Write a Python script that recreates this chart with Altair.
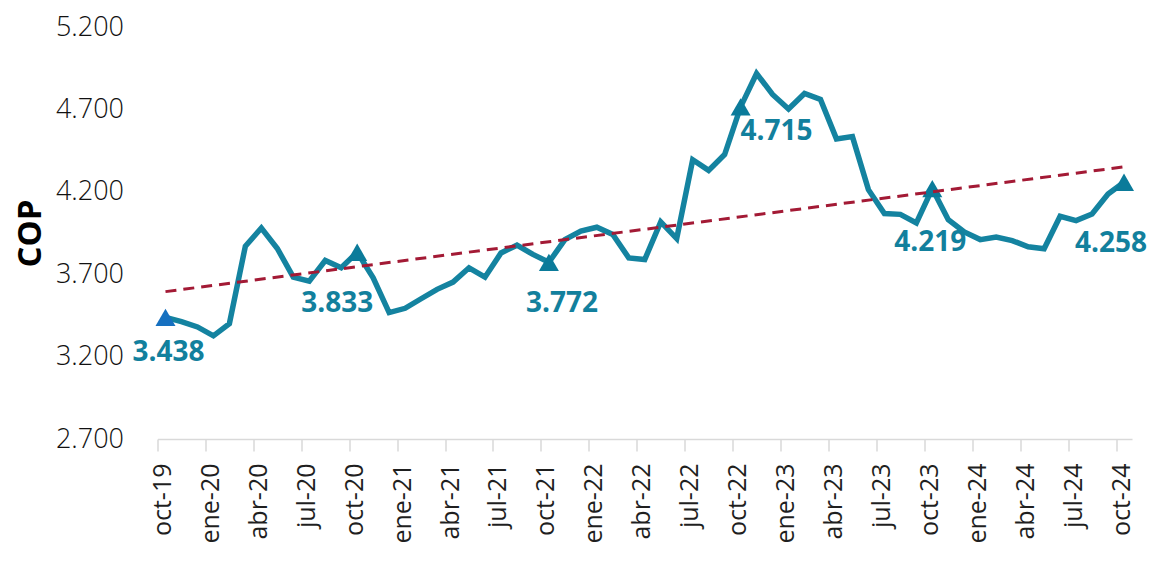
import altair as alt
import pandas as pd

# ---- data -------------------------------------------------------------
months = [
    "oct-19", "nov-19", "dic-19",
    "ene-20", "feb-20", "mar-20", "abr-20", "may-20", "jun-20", "jul-20", "ago-20", "sep-20", "oct-20", "nov-20", "dic-20",
    "ene-21", "feb-21", "mar-21", "abr-21", "may-21", "jun-21", "jul-21", "ago-21", "sep-21", "oct-21", "nov-21", "dic-21",
    "ene-22", "feb-22", "mar-22", "abr-22", "may-22", "jun-22", "jul-22", "ago-22", "sep-22", "oct-22", "nov-22", "dic-22",
    "ene-23", "feb-23", "mar-23", "abr-23", "may-23", "jun-23", "jul-23", "ago-23", "sep-23", "oct-23", "nov-23", "dic-23",
    "ene-24", "feb-24", "mar-24", "abr-24", "may-24", "jun-24", "jul-24", "ago-24", "sep-24", "oct-24",
]
cop = [
    3438, 3412, 3380,
    3326, 3400, 3870, 3980, 3856, 3682, 3658, 3783, 3739, 3833, 3678, 3467,
    3493, 3551, 3608, 3652, 3739, 3682, 3829, 3876, 3820, 3772, 3910, 3961,
    3985, 3941, 3799, 3789, 4017, 3916, 4394, 4330, 4426, 4715, 4918, 4791,
    4702, 4797, 4760, 4521, 4535, 4213, 4068, 4063, 4011, 4219, 4031, 3956,
    3910, 3926, 3904, 3866, 3854, 4051, 4025, 4065, 4186, 4258,
]
tick_labels = [
    "oct-19", "ene-20", "abr-20", "jul-20", "oct-20", "ene-21", "abr-21",
    "jul-21", "oct-21", "ene-22", "abr-22", "jul-22", "oct-22", "ene-23",
    "abr-23", "jul-23", "oct-23", "ene-24", "abr-24", "jul-24", "oct-24",
]
y_ticks = [2700, 3200, 3700, 4200, 4700, 5200]
marked = ["oct-19", "oct-20", "oct-21", "oct-22", "oct-23", "oct-24"]

# ---- styles (label offsets in px) ----------------------------------------
label_dx = [3, -20, 13, 36, -2, -13]
label_dy = [36, 52, 42, 25, 54, 62]

TEAL = "#1483A0"
MARK_TEAL = "#0B7B9A"
MARK_BLUE = "#1670C0"
LABEL_TEAL = "#12809D"
TREND = "#A31A35"
FONT = "Open Sans"

df = pd.DataFrame({"i": list(range(len(months))), "mes": months, "cop": cop})
df["txt"] = df["cop"].map(lambda v: f"{v:,}".replace(",", "."))
pts = df[df["mes"].isin(marked)].reset_index(drop=True)

label_expr = "[" + ",".join(f"'{t}'" for t in tick_labels) + "][round(datum.value/3)]"

x_enc = alt.X(
    "i:Q",
    scale=alt.Scale(domain=[-0.5, len(months) - 0.5], nice=False, zero=False),
    axis=alt.Axis(
        values=list(range(0, len(months), 3)),
        labelExpr=label_expr,
        labelAngle=-90,
        tickOffset=-8,
        labelOffset=5,
        tickSize=12,
        tickWidth=1.5,
        tickColor="#d9d9d9",
        domainColor="#d9d9d9",
        domainWidth=1.5,
        labelFont=FONT,
        labelFontSize=25,
        labelColor="#1f1f1f",
        labelPadding=12,
        labelOverlap=False,
        labelFlush=False,
        grid=False,
        title=None,
    ),
)
y_enc = alt.Y(
    "cop:Q",
    scale=alt.Scale(domain=[2700, 5200], nice=False, zero=False),
    axis=alt.Axis(
        values=y_ticks,
        labelExpr="replace(format(datum.value, ','), ',', '.')",
        domain=False,
        ticks=False,
        tickSize=0,
        grid=False,
        labelPadding=34,
        labelFont=FONT,
        labelFontSize=27,
        labelFontWeight=300,
        labelColor="#111111",
        title="COP",
        titleFont=FONT,
        titleFontSize=33,
        titleFontWeight="bold",
        titleColor="#000000",
        titleAngle=270,
        titleAlign="center",
        titleBaseline="middle",
        titleX=-127,
        titleY=206,
    ),
)

base = alt.Chart(df)

line = base.mark_line(color=TEAL, strokeWidth=5.5).encode(x=x_enc, y=y_enc)

trend = (
    base.transform_regression("i", "cop")
    .mark_line(color=TREND, strokeWidth=3, strokeDash=[11, 7])
    .encode(x="i:Q", y="cop:Q")
)

markers = (
    alt.Chart(pts)
    .mark_point(shape="triangle-up", filled=True, size=400, opacity=1)
    .encode(
        x="i:Q",
        y="cop:Q",
        color=alt.condition(alt.datum.i == 0, alt.value(MARK_BLUE), alt.value(MARK_TEAL)),
    )
)

labels = []
for k, m in enumerate(marked):
    labels.append(
        alt.Chart(pts[pts["mes"] == m])
        .mark_text(
            font=FONT,
            fontSize=28,
            fontWeight="bold",
            color=LABEL_TEAL,
            align="center",
            baseline="middle",
            dx=label_dx[k],
            dy=label_dy[k],
        )
        .encode(x="i:Q", y="cop:Q", text="txt:N")
    )

chart = (
    alt.layer(line, markers, trend, *labels)
    .properties(
        width=974.5,
        height=412,
        autosize=alt.AutoSizeParams(type="none"),
        padding={"left": 149.5, "top": 19, "right": 17, "bottom": 106},
        background="white",
    )
    .configure_view(stroke=None)
)

chart.save("out.html", embed_options={"renderer": "svg", "actions": False})
